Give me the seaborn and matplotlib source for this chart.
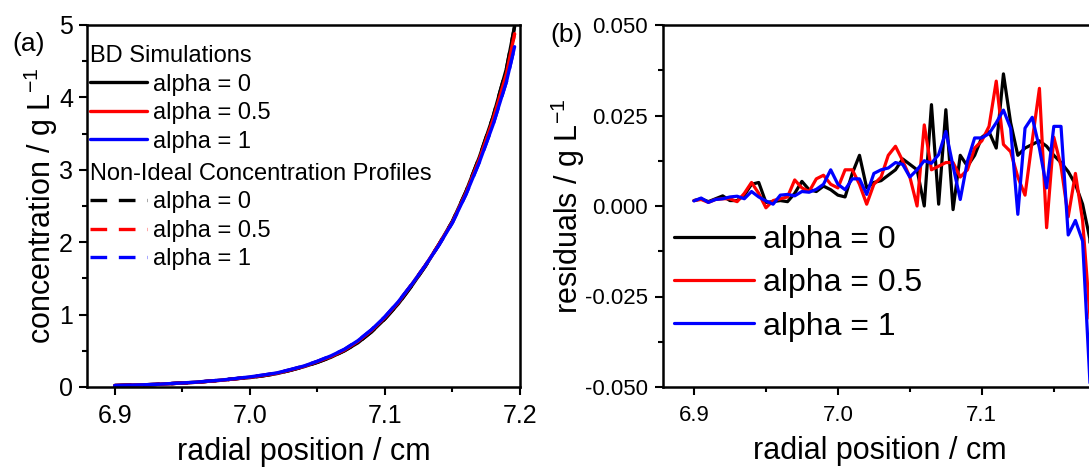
import numpy as np
import pandas as pd
import matplotlib
matplotlib.use("Agg")
import matplotlib.pyplot as plt
from matplotlib.ticker import MultipleLocator, FormatStrFormatter
import seaborn as sns

# ---------------- data ----------------
# (a) concentration profiles
conc_x = [6.90, 6.91, 6.92, 6.93, 6.94, 6.95, 6.96, 6.97, 6.98, 6.99,
          7.00, 7.01, 7.02, 7.03, 7.04, 7.05, 7.06, 7.07, 7.08, 7.09,
          7.10, 7.11, 7.12, 7.13, 7.14, 7.15, 7.16, 7.17, 7.18, 7.19, 7.196]
bd_a0 = [0.02, 0.025, 0.03, 0.035, 0.045, 0.055, 0.065, 0.08, 0.095, 0.115,
         0.13, 0.155, 0.185, 0.23, 0.28, 0.34, 0.41, 0.50, 0.61, 0.76,
         0.94, 1.15, 1.40, 1.67, 1.97, 2.29, 2.70, 3.18, 3.73, 4.40, 4.98]
bd_a05 = [0.02, 0.025, 0.03, 0.035, 0.045, 0.055, 0.065, 0.08, 0.095, 0.115,
          0.135, 0.16, 0.19, 0.235, 0.285, 0.35, 0.42, 0.51, 0.63, 0.78,
          0.96, 1.17, 1.42, 1.68, 1.97, 2.28, 2.68, 3.15, 3.69, 4.33, 4.88]
bd_a1 = [0.02, 0.025, 0.03, 0.036, 0.046, 0.056, 0.067, 0.082, 0.098, 0.118,
         0.14, 0.165, 0.195, 0.24, 0.29, 0.355, 0.43, 0.52, 0.64, 0.79,
         0.97, 1.18, 1.42, 1.68, 1.96, 2.27, 2.66, 3.11, 3.62, 4.22, 4.70]
ni_a0 = [0.02, 0.025, 0.03, 0.035, 0.045, 0.055, 0.065, 0.08, 0.095, 0.115,
         0.13, 0.155, 0.185, 0.23, 0.28, 0.34, 0.41, 0.50, 0.61, 0.76,
         0.94, 1.15, 1.40, 1.67, 1.97, 2.29, 2.70, 3.18, 3.73, 4.40, 4.98]
ni_a05 = [0.02, 0.025, 0.03, 0.035, 0.045, 0.055, 0.065, 0.08, 0.095, 0.115,
          0.135, 0.16, 0.19, 0.235, 0.285, 0.35, 0.42, 0.51, 0.63, 0.78,
          0.96, 1.17, 1.42, 1.68, 1.97, 2.28, 2.68, 3.15, 3.69, 4.33, 4.88]
ni_a1 = [0.02, 0.025, 0.03, 0.036, 0.046, 0.056, 0.067, 0.082, 0.098, 0.118,
         0.14, 0.165, 0.195, 0.24, 0.29, 0.355, 0.43, 0.52, 0.64, 0.79,
         0.97, 1.18, 1.42, 1.68, 1.96, 2.27, 2.66, 3.11, 3.62, 4.22, 4.70]

# (b) residuals
res_x = [6.900, 6.905, 6.910, 6.915, 6.920, 6.925, 6.930, 6.935, 6.940, 6.945,
         6.950, 6.955, 6.960, 6.965, 6.970, 6.975, 6.980, 6.985, 6.990, 6.995,
         7.000, 7.005, 7.010, 7.015, 7.020, 7.025, 7.030, 7.035, 7.040, 7.045,
         7.050, 7.055, 7.060, 7.065, 7.070, 7.075, 7.080, 7.085, 7.090, 7.095,
         7.100, 7.105, 7.110, 7.115, 7.120, 7.125, 7.130, 7.135, 7.140, 7.145,
         7.150, 7.155, 7.160, 7.165, 7.170, 7.175, 7.180]
res_a0 = [0.0015, 0.0020, 0.0012, 0.0020, 0.0028, 0.0015, 0.0015, 0.0030, 0.0060, 0.0065,
          0.0010, 0.0012, 0.0015, 0.0012, 0.0035, 0.0068, 0.0045, 0.0040, 0.0055, 0.0045,
          0.0030, 0.0025, 0.0090, 0.0140, 0.0050, 0.0065, 0.0070, 0.0085, 0.0100, 0.0130,
          0.0115, 0.0100, 0.0000, 0.0280, 0.0005, 0.0266, -0.0010, 0.0140, 0.0110, 0.0140,
          0.0190, 0.0205, 0.0160, 0.0365, 0.0230, 0.0140, 0.0160, 0.0170, 0.0180, 0.0165,
          0.0140, 0.0120, 0.0095, 0.0060, 0.0005, -0.0090, -0.0500]
res_a05 = [0.0015, 0.0018, 0.0010, 0.0018, 0.0020, 0.0020, 0.0012, 0.0035, 0.0065, 0.0035,
           -0.0005, 0.0015, 0.0020, 0.0025, 0.0072, 0.0050, 0.0040, 0.0075, 0.0085, 0.0060,
           0.0050, 0.0100, 0.0100, 0.0060, 0.0005, 0.0060, 0.0080, 0.0140, 0.0165, 0.0125,
           0.0080, 0.0000, 0.0224, 0.0100, 0.0110, 0.0120, 0.0120, 0.0080, 0.0100, 0.0160,
           0.0180, 0.0220, 0.0345, 0.0170, 0.0150, 0.0080, 0.0030, 0.0180, 0.0325, -0.0060,
           0.0190, 0.0110, -0.0030, 0.0090, -0.0040, -0.0300, -0.0700]
res_a1 = [0.0014, 0.0022, 0.0010, 0.0018, 0.0020, 0.0025, 0.0027, 0.0020, 0.0040, 0.0025,
          0.0014, 0.0005, 0.0030, 0.0032, 0.0028, 0.0040, 0.0038, 0.0046, 0.0060, 0.0100,
          0.0060, 0.0045, 0.0075, 0.0075, 0.0032, 0.0090, 0.0100, 0.0105, 0.0120, 0.0115,
          0.0080, 0.0100, 0.0125, 0.0118, 0.0142, 0.0206, 0.0110, 0.0018, 0.0124, 0.0188,
          0.0188, 0.0200, 0.0230, 0.0265, 0.0215, -0.0023, 0.0215, 0.0245, 0.0160, 0.0050,
          0.0220, 0.0220, -0.0080, -0.0040, -0.0097, -0.0480, -0.0800]

labels = ["alpha = 0", "alpha = 0.5", "alpha = 1"]
colors = ["#000000", "#ff0000", "#0000ff"]

# ---------------- style ----------------
sns.set_style("ticks")
plt.rcParams["font.family"] = ["Liberation Sans", "DejaVu Sans"]
plt.rcParams["mathtext.fontset"] = "custom"
plt.rcParams["mathtext.rm"] = "Liberation Sans"
plt.rcParams["mathtext.it"] = "Liberation Sans:italic"
for key in ("text.color", "axes.labelcolor", "xtick.color", "ytick.color",
            "xtick.labelcolor", "ytick.labelcolor", "axes.edgecolor"):
    plt.rcParams[key] = "black"

W, H = 1089, 474
fig = plt.figure(figsize=(W / 100, H / 100), dpi=100)
ax1 = fig.add_axes([87 / W, 87 / H, 433 / W, 362 / H])
ax2 = fig.add_axes([663 / W, 87 / H, 434 / W, 362 / H])

LW = 2.4

# ---- panel (a) ----
for lab, col, ys in zip(labels, colors, [ni_a0, ni_a05, ni_a1]):
    sns.lineplot(x=conc_x, y=ys, ax=ax1, color=col, lw=LW, linestyle="--",
                 estimator=None, legend=False)
for lab, col, ys in zip(labels, colors, [bd_a0, bd_a05, bd_a1]):
    sns.lineplot(x=conc_x, y=ys, ax=ax1, color=col, lw=LW,
                 estimator=None, legend=False)
lines1 = ax1.get_lines()
dashed = lines1[:3]
solid = lines1[3:]
for ln in dashed:
    ln.set_dashes((5, 3.5))

ax1.set_xlim(6.8795, 7.2)
ax1.set_ylim(0, 5)
ax1.xaxis.set_major_locator(MultipleLocator(0.1))
ax1.xaxis.set_minor_locator(MultipleLocator(0.05))
ax1.xaxis.set_major_formatter(FormatStrFormatter("%.1f"))
ax1.yaxis.set_major_locator(MultipleLocator(1))
ax1.yaxis.set_minor_locator(MultipleLocator(0.5))
ax1.set_xlabel("radial position / cm", fontsize=22, labelpad=7)
ax1.set_ylabel("concentration / g L$^{-1}$", fontsize=22)
ax1.yaxis.set_label_coords(-0.062, 0.5)
ax1.tick_params(axis="both", which="major", labelsize=18, length=6, width=1.5,
                direction="out", pad=4, top=False, right=False)
ax1.tick_params(axis="x", which="major", pad=6)
ax1.tick_params(axis="both", which="minor", length=3.5, width=1.5, direction="out",
                top=False, right=False)

leg_kw = dict(frameon=False, fontsize=17, title_fontsize=17, handlelength=2.4,
              handletextpad=0.25, labelspacing=0.28, borderpad=0, borderaxespad=0,
              alignment="left", loc="upper left")
legA = ax1.legend(solid, labels, title="BD Simulations",
                  bbox_to_anchor=(0.008, 0.945), **leg_kw)
ax1.add_artist(legA)
legB = ax1.legend(dashed, labels, title="Non-Ideal Concentration Profiles",
                  bbox_to_anchor=(0.008, 0.62), **leg_kw)

# ---- panel (b) ----
for lab, col, ys in zip(labels, colors, [res_a0, res_a05, res_a1]):
    sns.lineplot(x=res_x, y=ys, ax=ax2, color=col, lw=2.3,
                 estimator=None, legend=False)
ax2.set_xlim(6.8785, 7.18)
ax2.set_ylim(-0.05, 0.05)
ax2.xaxis.set_major_locator(MultipleLocator(0.1))
ax2.xaxis.set_minor_locator(MultipleLocator(0.05))
ax2.xaxis.set_major_formatter(FormatStrFormatter("%.1f"))
ax2.yaxis.set_major_locator(MultipleLocator(0.025))
ax2.yaxis.set_minor_locator(MultipleLocator(0.0125))
ax2.yaxis.set_major_formatter(FormatStrFormatter("%.3f"))
ax2.set_xlabel("radial position / cm", fontsize=22, labelpad=7)
ax2.set_ylabel("residuals / g L$^{-1}$", fontsize=22)
ax2.yaxis.set_label_coords(-0.175, 0.5)
ax2.tick_params(axis="both", which="major", labelsize=16, length=6, width=1.5,
                direction="out", pad=5, top=False, right=False)
ax2.tick_params(axis="x", which="major", pad=7)
ax2.tick_params(axis="both", which="minor", length=3.5, width=1.5, direction="out",
                top=False, right=False)
ax2.legend(ax2.get_lines(), labels, frameon=False, fontsize=23, handlelength=2.5,
           handletextpad=0.3, labelspacing=0.42, borderpad=0, borderaxespad=0,
           loc="upper left", bbox_to_anchor=(0.025, 0.448))

for ax in (ax1, ax2):
    for sp in ax.spines.values():
        sp.set_visible(True)
        sp.set_linewidth(1.8)
        sp.set_color("black")

fig.text(12 / W, 1 - 44 / H, "(a)", fontsize=19, ha="left", va="center")
fig.text(550 / W, 1 - 35 / H, "(b)", fontsize=19, ha="left", va="center")

fig.savefig("out.png", dpi=100)
